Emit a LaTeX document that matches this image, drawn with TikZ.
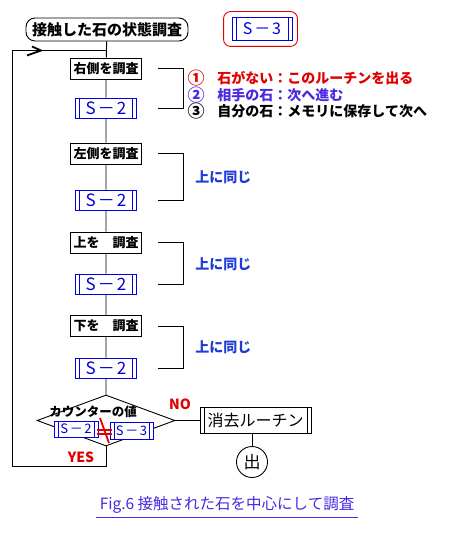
\documentclass[tikz,border=0pt]{standalone}
\usepackage{fontspec}
\setmainfont{Noto Sans CJK JP}
\usetikzlibrary{shapes.geometric}
\definecolor{azul}{RGB}{0,0,225}
\definecolor{azulc}{RGB}{30,60,215}
\definecolor{roxo}{RGB}{75,40,225}
\definecolor{vermelho}{RGB}{225,0,0}
\newcommand\tam[1]{\fontsize{#1}{#1}\selectfont}
\newcommand\sub[1]{S\hspace{0.12em}－\hspace{0.12em}#1}

\tikzset{
  caixa/.style={draw, fill=white, font=\bfseries\tam{13}, minimum height=21pt, inner sep=3pt},
  subr/.style={draw=#1, text=#1, fill=white, inner sep=0pt,
    path picture={\draw[#1]
      ([xshift=4pt]path picture bounding box.south west) -- ([xshift=4pt]path picture bounding box.north west)
      ([xshift=-4pt]path picture bounding box.south east) -- ([xshift=-4pt]path picture bounding box.north east);}},
  subr/.default=azul
}

\begin{document}
\begin{tikzpicture}[x=1pt, y=-1pt, line width=0.9pt]
    \fill[white] (0,0) rectangle (449,534);
    \useasboundingbox (0,0) rectangle (449,534);

    % Inicio
    \node[draw, rounded corners=9pt, minimum width=162pt, minimum height=23pt, inner sep=2pt,
        font=\bfseries\tam{15}] (topo) at (107,29.5) {接触した石の状態調査};
    \node[subr, minimum width=60pt, minimum height=23pt, font=\tam{16}] (s0) at (262,28.5) {\sub{3}};
    \draw[vermelho, rounded corners=7pt] ([shift={(-8pt,-6pt)}]s0.south west) rectangle ([shift={(5pt,5pt)}]s0.north east);

    % Verificacoes
    \coordinate (bx) at (158,0);
    \coordinate (by) at (183,0);
    \foreach \n/\yc/\ys/\txt in {1/68.5/108/右側を調査, 2/153.5/200/左側を調査, 3/242.5/284/上を　調査, 4/326/368/下を　調査} {
        \node[caixa] (c\n) at (106,\yc) {\txt};
        \node[subr, minimum width=61pt, minimum height=20pt, font=\tam{17}] (s\n) at (106,\ys) {\sub{2}};
        \draw (c\n.center -| bx) -- (c\n.center -| by) -- (s\n.center -| by) -- (s\n.center -| bx);
    }

    % Comentarios
    \foreach \n/\y/\cor/\num/\txt in {1/78/vermelho/①/石がない：このルーチンを出る, 2/95/roxo/②/相手の石：次へ進む, 3/111/black/③/自分の石：メモリに保存して次へ} {
        \node[text=\cor, font=\bfseries\tam{17}, inner sep=0pt] (n\n) at (196,\y) {\num};
        \node[anchor=west, text=\cor, font=\bfseries\tam{14}, inner sep=0pt] (r\n) at (217,\y) {\txt};
    }
    \foreach \n/\y in {2/177, 3/264.5, 4/347.5}
        \node[anchor=west, text=azulc, font=\bfseries\tam{14}, inner sep=0pt] (ig\n) at (195,\y) {上に同じ};

    % Decisao
    \node[draw, diamond, minimum width=138pt, minimum height=51pt, inner sep=0pt] (dec) at (106,420.5) {};
    \node[font=\bfseries\tam{12.5}, inner sep=0pt] (cont) at (93,412) {カウンターの値};
    \node[subr, minimum width=44pt, minimum height=16pt, font=\tam{13}] (d2) at (76,429) {\sub{2}};
    \node[subr, minimum width=43pt, minimum height=17pt, font=\tam{13}] (d3) at (131.5,430.5) {\sub{3}};
    \draw[vermelho, line width=1.5pt] (97,430) -- (112,430) (97,434) -- (112,434);
    \draw[vermelho, line width=1.8pt] (100,418) -- (109,443);
    \node[text=vermelho, font=\bfseries\tam{14}] (no) at (180,404) {NO};
    \node[text=vermelho, font=\bfseries\tam{14}] (yes) at (81,457) {YES};

    % Fluxo principal
    \draw (topo) -- (c1) -- (s1) -- (c2) -- (s2) -- (c3) -- (s3) -- (c4) -- (s4) -- (dec);

    % Saida
    \node[subr=black, minimum width=111pt, minimum height=26pt, font=\tam{16}] (apaga) at (255.5,420.5) {消去ルーチン};
    \node[draw, circle, minimum size=31pt, inner sep=0pt, font=\tam{17}] (fim) at (252,462) {出};
    \draw (dec.east) -- (apaga.west);
    \draw (fim.north |- apaga.south) -- (fim);

    % Retorno
    \coordinate (canto) at (12,466);
    \coordinate (junta) at (106,50.5);
    \coordinate (seta) at (41,50.5);
    \draw (dec.south) |- (canto) |- (junta);
    \draw[line width=1.8pt] ([shift={(-9,-4)}]seta) -- (seta) -- ([shift={(-14,5)}]seta);

    % Legenda
    \node[text=roxo, font=\tam{15.5}] (leg) at (227,505) {Fig.6 接触された石を中心にして調査};
    \draw[roxo] (leg.south west) -- (leg.south east);
\end{tikzpicture}
\end{document}
